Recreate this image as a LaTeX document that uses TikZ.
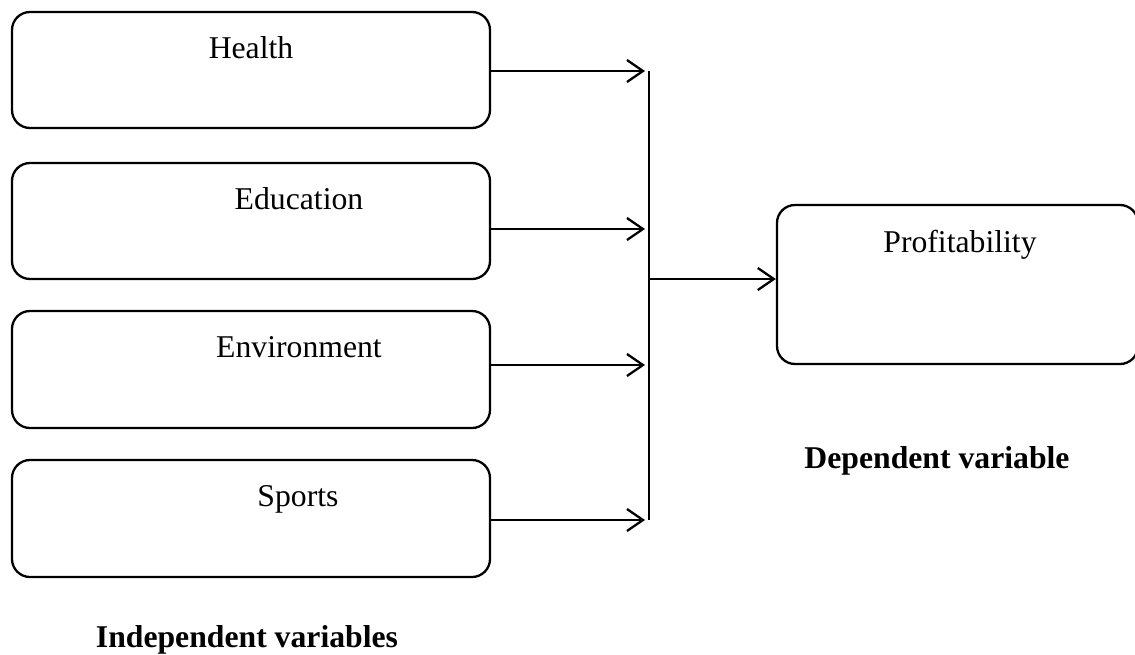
\documentclass[tikz,border=0pt]{standalone}
\usepackage{fontspec}
\setmainfont{Liberation Serif}
\usetikzlibrary{arrows.meta}
\begin{document}
\begin{tikzpicture}[x=1pt,y=-1pt,
  box/.style={draw,line width=2.3pt,rounded corners=18pt,inner sep=0pt},
  lbl/.style={anchor=base,inner sep=0pt,font=\fontsize{31.7}{38}\selectfont},
  blbl/.style={anchor=base,inner sep=0pt,font=\fontsize{31.7}{38}\selectfont\bfseries},
  conn/.style={line width=2.3pt},
  arr/.style={line width=2.3pt,-{Straight Barb[length=16pt,width=22pt,line width=2.3pt]}}]
\useasboundingbox (0,0) rectangle (1135,654);
% boxes
\node[box,minimum width=478pt,minimum height=116pt] (h) at (251,70) {};
\node[box,minimum width=478pt,minimum height=116pt] (e) at (251,221) {};
\node[box,minimum width=478pt,minimum height=117pt] (v) at (251,369.5) {};
\node[box,minimum width=478pt,minimum height=117pt] (s) at (251,518.5) {};
\node[box,minimum width=361pt,minimum height=159pt] (p) at (957.5,284.5) {};
% texts
\node[lbl] (th) at (251,58) {Health};
\node[lbl] (te) at (299,209) {Education};
\node[lbl] (tv) at (299,357) {Environment};
\node[lbl] (ts) at (298,506) {Sports};
\node[lbl] (tp) at (960,252) {Profitability};
\node[blbl] (ti) at (247,647) {Independent variables};
\node[blbl] (td) at (937,468) {Dependent variable};
% bus
\coordinate (bt) at (649,71);
\coordinate (bb) at (649,520);
\coordinate (bm) at (649,279);
\coordinate (ah) at (645,71);
\coordinate (ae) at (645,229);
\coordinate (av) at (645,365);
\coordinate (as) at (645,520);
\draw[conn] (bt) -- (bb);
\draw[arr] (h.east |- ah) -- (ah);
\draw[arr] (e.east |- ae) -- (ae);
\draw[arr] (v.east |- av) -- (av);
\draw[arr] (s.east |- as) -- (as);
\draw[arr] (bm) -- (p.west |- bm);
\end{tikzpicture}
\end{document}
